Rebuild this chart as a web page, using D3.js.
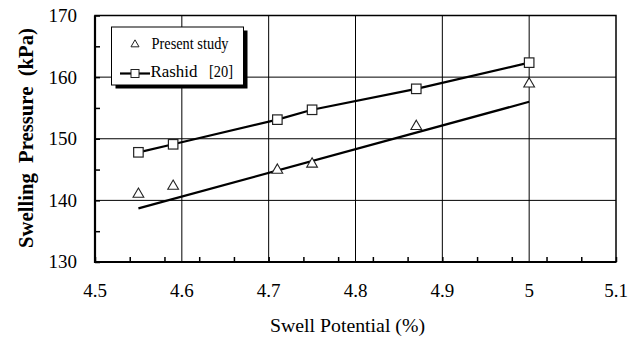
<!DOCTYPE html>
<html>
<head>
<meta charset="utf-8">
<script src="https://cdn.jsdelivr.net/npm/d3@7"></script>
<style>
  body { margin: 0; background: #fff; }
  svg text { font-family: "Liberation Serif", "DejaVu Serif", serif; fill: #000; white-space: pre; }
</style>
</head>
<body>
<svg id="chart" width="638" height="342"></svg>
<script>
// swell potential (%) for both data sets
const swell = [4.55, 4.59, 4.71, 4.75, 4.87, 5.0];
const presentStudy = [141.0, 142.3, 144.9, 145.9, 152.0, 158.9];
const rashid = [147.8, 149.1, 153.1, 154.7, 158.1, 162.35];
// line drawn for the present study
const presentLineX = [4.55, 5.0];
const presentLineY = [138.7, 156.0];

const xTicks = [4.5, 4.6, 4.7, 4.8, 4.9, 5.0, 5.1];
const xTickLabels = ['4.5', '4.6', '4.7', '4.8', '4.9', '5', '5.1'];
const yTicks = [130, 140, 150, 160, 170];

const serif = '"Liberation Serif", "DejaVu Serif", serif';
const svg = d3.select('#chart');
const plotL = 95, plotR = 616, plotT = 15.5, plotB = 262;

const x = d3.scaleLinear().domain([4.5, 5.1]).range([plotL, plotR]);
const y = d3.scaleLinear().domain([130, 170]).range([plotB, plotT]);

// grid
svg.append('g')
  .selectAll('line')
  .data(yTicks.slice(1, -1))
  .join('line')
  .attr('x1', plotL).attr('x2', plotR)
  .attr('y1', (d) => y(d)).attr('y2', (d) => y(d))
  .attr('stroke', '#000').attr('stroke-width', 1);

svg.append('g')
  .selectAll('line')
  .data(xTicks.slice(1, -1))
  .join('line')
  .attr('x1', (d) => x(d)).attr('x2', (d) => x(d))
  .attr('y1', plotT).attr('y2', plotB)
  .attr('stroke', '#000').attr('stroke-width', 1);

// minor ticks, pointing inward
const xMinor = d3.range(0, 16).map((i) => 4.5 + i * 0.04);
const yMinor = d3.range(130, 171, 5);

svg.append('g')
  .attr('transform', `translate(0,${plotB})`)
  .call(d3.axisBottom(x).tickValues(xMinor).tickSize(-5).tickFormat(''))
  .call((g) => g.select('.domain').remove())
  .call((g) => g.selectAll('line').attr('stroke-width', 1.5));

svg.append('g')
  .attr('transform', `translate(${plotL},0)`)
  .call(d3.axisLeft(y).tickValues(yMinor).tickSize(-5).tickFormat(''))
  .call((g) => g.select('.domain').remove())
  .call((g) => g.selectAll('line').attr('stroke-width', 1.5));

// frame
svg.append('rect')
  .attr('x', plotL).attr('y', plotT)
  .attr('width', plotR - plotL).attr('height', plotB - plotT)
  .attr('fill', 'none').attr('stroke', '#000').attr('stroke-width', 1.5);
svg.append('path')
  .attr('d', `M${plotL},${plotT}V${plotB}H${plotR}`)
  .attr('fill', 'none').attr('stroke', '#000').attr('stroke-width', 2.2);

// tick labels
svg.append('g')
  .selectAll('text')
  .data(yTicks)
  .join('text')
  .attr('x', 77)
  .attr('y', (d) => y(d))
  .attr('dy', '0.34em')
  .attr('text-anchor', 'end')
  .attr('font-family', serif)
  .attr('font-size', 19)
  .text((d) => d);

svg.append('g')
  .selectAll('text')
  .data(xTicks)
  .join('text')
  .attr('x', (d) => x(d))
  .attr('y', 297)
  .attr('text-anchor', 'middle')
  .attr('font-family', serif)
  .attr('font-size', 19)
  .text((d, i) => xTickLabels[i]);

// axis titles
svg.append('text')
  .attr('x', (plotL + plotR) / 2 - 8)
  .attr('y', 332)
  .attr('text-anchor', 'middle')
  .attr('font-family', serif)
  .attr('font-size', 18)
  .attr('textLength', 155)
  .attr('lengthAdjust', 'spacingAndGlyphs')
  .text('Swell Potential (%)');

svg.append('text')
  .attr('transform', 'translate(33,138) rotate(-90)')
  .attr('text-anchor', 'middle')
  .attr('font-family', serif)
  .attr('font-size', 22)
  .attr('font-weight', 'bold')
  .attr('textLength', 220)
  .attr('lengthAdjust', 'spacingAndGlyphs')
  .text('Swelling  Pressure  (kPa)');

// lines
const line = d3.line().x((d) => x(d[0])).y((d) => y(d[1]));

svg.append('path')
  .datum(d3.zip(presentLineX, presentLineY))
  .attr('d', line)
  .attr('fill', 'none').attr('stroke', '#000').attr('stroke-width', 2.2);

svg.append('path')
  .datum(d3.zip(swell, rashid))
  .attr('d', line)
  .attr('fill', 'none').attr('stroke', '#000').attr('stroke-width', 2.2);

// markers
const tri = d3.symbol().type(d3.symbolTriangle).size(50);

svg.append('g')
  .selectAll('path')
  .data(d3.zip(swell, presentStudy))
  .join('path')
  .attr('transform', (d) => `translate(${x(d[0])},${y(d[1])})`)
  .attr('d', tri)
  .attr('fill', '#fff').attr('stroke', '#222').attr('stroke-width', 1.1);

const sq = 9.5;
svg.append('g')
  .selectAll('rect')
  .data(d3.zip(swell, rashid))
  .join('rect')
  .attr('x', (d) => x(d[0]) - sq / 2)
  .attr('y', (d) => y(d[1]) - sq / 2)
  .attr('width', sq).attr('height', sq)
  .attr('fill', '#fff').attr('stroke', '#222').attr('stroke-width', 1.2);

// legend
const legend = svg.append('g');
legend.append('rect')
  .attr('x', 115.5).attr('y', 30.5).attr('width', 132).attr('height', 58)
  .attr('fill', '#000');
legend.append('rect')
  .attr('x', 111.5).attr('y', 27).attr('width', 132).attr('height', 58)
  .attr('fill', '#fff').attr('stroke', '#000').attr('stroke-width', 1);

legend.append('path')
  .attr('transform', 'translate(135,44.5)')
  .attr('d', d3.symbol().type(d3.symbolTriangle).size(28))
  .attr('fill', '#fff').attr('stroke', '#222').attr('stroke-width', 1);
legend.append('text')
  .attr('x', 151.5).attr('y', 48.5)
  .attr('font-family', serif)
  .attr('font-size', 17)
  .attr('textLength', 77)
  .attr('lengthAdjust', 'spacingAndGlyphs')
  .text('Present study');

legend.append('line')
  .attr('x1', 120).attr('x2', 150).attr('y1', 73.5).attr('y2', 73.5)
  .attr('stroke', '#000').attr('stroke-width', 2.2);
legend.append('rect')
  .attr('x', 131).attr('y', 69.5).attr('width', 8).attr('height', 8)
  .attr('fill', '#fff').attr('stroke', '#222').attr('stroke-width', 1);
legend.append('text')
  .attr('x', 150.5).attr('y', 76.5)
  .attr('font-family', serif)
  .attr('font-size', 17)
  .attr('textLength', 47)
  .attr('lengthAdjust', 'spacingAndGlyphs')
  .text('Rashid');
legend.append('text')
  .attr('x', 209).attr('y', 76.5)
  .attr('font-family', serif)
  .attr('font-size', 17)
  .attr('textLength', 24)
  .attr('lengthAdjust', 'spacingAndGlyphs')
  .text('[20]');
</script>
</body>
</html>
